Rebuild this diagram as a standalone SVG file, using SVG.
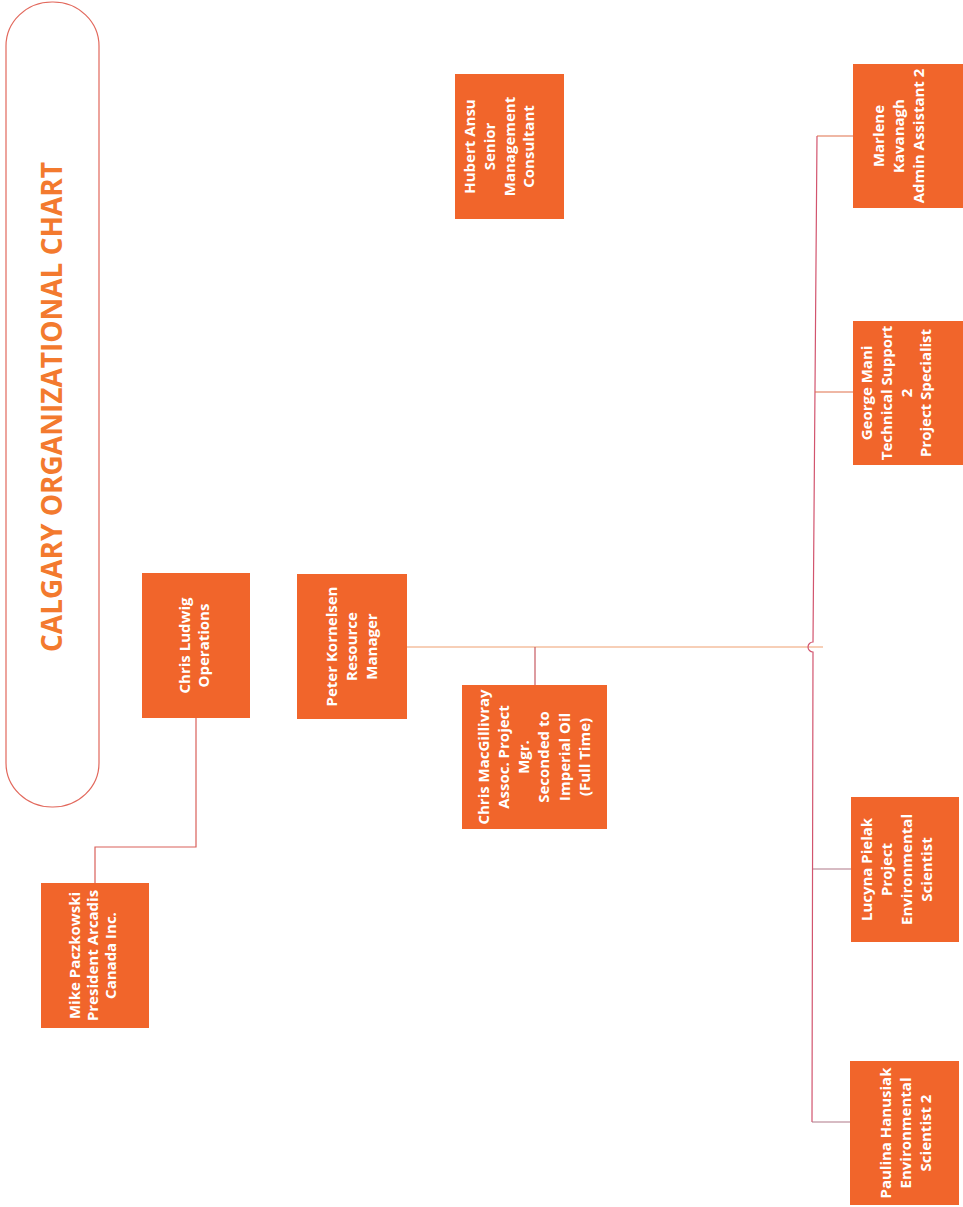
<svg xmlns="http://www.w3.org/2000/svg" width="963" height="1207" viewBox="0 0 963 1207">
<style>
.box{fill:#F1652B;}
.t{font-family:"Open Sans","Liberation Sans",Arial,sans-serif;font-weight:bold;font-size:15px;fill:#ffffff;text-anchor:middle;}
.title{font-family:"Open Sans","Liberation Sans",Arial,sans-serif;font-weight:bold;font-size:28px;fill:#F37A2E;text-anchor:middle;}
.ln{fill:none;stroke-width:1.2;}
</style>
<rect x="0" y="0" width="963" height="1207" fill="#ffffff"/>
<g id="title">
<rect x="6" y="2" width="93" height="805" rx="46" ry="44" fill="none" stroke="#E2685C" stroke-width="1.2"/>
<text class="title" transform="translate(52,407) rotate(-90)" x="0" y="10" textLength="490" lengthAdjust="spacingAndGlyphs">CALGARY ORGANIZATIONAL CHART</text>
</g>
<g id="connectors">
<polyline class="ln" stroke="#D9605A" points="95,883 95,847 196,847 196,718"/>
<line class="ln" stroke="#F0A070" x1="407" y1="647" x2="823" y2="647"/>
<line class="ln" stroke="#C65A62" x1="535" y1="647" x2="535" y2="685"/>
<path class="ln" stroke="#D2546E" d="M817,136 L813,642 A5,5 0 0 0 813,652 L812,1122"/>
<line class="ln" stroke="#E0704A" x1="817" y1="136" x2="853" y2="136"/>
<line class="ln" stroke="#E0704A" x1="815" y1="392" x2="853" y2="392"/>
<line class="ln" stroke="#B07888" x1="813" y1="869" x2="851" y2="869"/>
<line class="ln" stroke="#B07888" x1="812" y1="1122" x2="850" y2="1122"/>
</g>
<g id="mike">
<rect class="box" x="41" y="883" width="108" height="145"/>
<text class="t" transform="translate(95,955.5) rotate(-90)"><tspan x="0" y="-15">Mike Paczkowski</tspan><tspan x="0" y="3">President Arcadis</tspan><tspan x="0" y="21">Canada Inc.</tspan></text>
</g>
<g id="ludwig">
<rect class="box" x="142" y="573" width="108" height="145"/>
<text class="t" transform="translate(196,645.5) rotate(-90)"><tspan x="0" y="-6">Chris Ludwig</tspan><tspan x="0" y="13">Operations</tspan></text>
</g>
<g id="kornelsen">
<rect class="box" x="297" y="574" width="110" height="145"/>
<text class="t" transform="translate(352,646.5) rotate(-90)"><tspan x="0" y="-15">Peter Kornelsen</tspan><tspan x="0" y="5">Resource</tspan><tspan x="0" y="25">Manager</tspan></text>
</g>
<g id="macgillivray">
<rect class="box" x="462" y="685" width="145" height="144"/>
<text class="t" transform="translate(534.5,757) rotate(-90)"><tspan x="0" y="-46">Chris MacGillivray</tspan><tspan x="0" y="-26">Assoc. Project</tspan><tspan x="0" y="-6">Mgr.</tspan><tspan x="0" y="14">Seconded to</tspan><tspan x="0" y="35">Imperial Oil</tspan><tspan x="0" y="55">(Full Time)</tspan></text>
</g>
<g id="ansu">
<rect class="box" x="455" y="74" width="109" height="145"/>
<text class="t" transform="translate(509.5,146.5) rotate(-90)"><tspan x="0" y="-34.5">Hubert Ansu</tspan><tspan x="0" y="-14.5">Senior</tspan><tspan x="0" y="5.5">Management</tspan><tspan x="0" y="24.5">Consultant</tspan></text>
</g>
<g id="kavanagh">
<rect class="box" x="853" y="64" width="112" height="144"/>
<text class="t" transform="translate(908,136) rotate(-90)"><tspan x="0" y="-24">Marlene</tspan><tspan x="0" y="-4">Kavanagh</tspan><tspan x="0" y="16">Admin Assistant 2</tspan></text>
</g>
<g id="mani">
<rect class="box" x="853" y="321" width="112" height="144"/>
<text class="t" transform="translate(908,393) rotate(-90)"><tspan x="0" y="-36">George Mani</tspan><tspan x="0" y="-16">Technical Support</tspan><tspan x="0" y="4">2</tspan><tspan x="0" y="23">Project Specialist</tspan></text>
</g>
<g id="pielak">
<rect class="box" x="851" y="797" width="108" height="145"/>
<text class="t" transform="translate(905,869.5) rotate(-90)"><tspan x="0" y="-33">Lucyna Pielak</tspan><tspan x="0" y="-13">Project</tspan><tspan x="0" y="7">Environmental</tspan><tspan x="0" y="27">Scientist</tspan></text>
</g>
<g id="hanusiak">
<rect class="box" x="850" y="1061" width="109" height="144"/>
<text class="t" transform="translate(904.5,1133) rotate(-90)"><tspan x="0" y="-13.5">Paulina Hanusiak</tspan><tspan x="0" y="6.5">Environmental</tspan><tspan x="0" y="26.5">Scientist 2</tspan></text>
</g>
</svg>
